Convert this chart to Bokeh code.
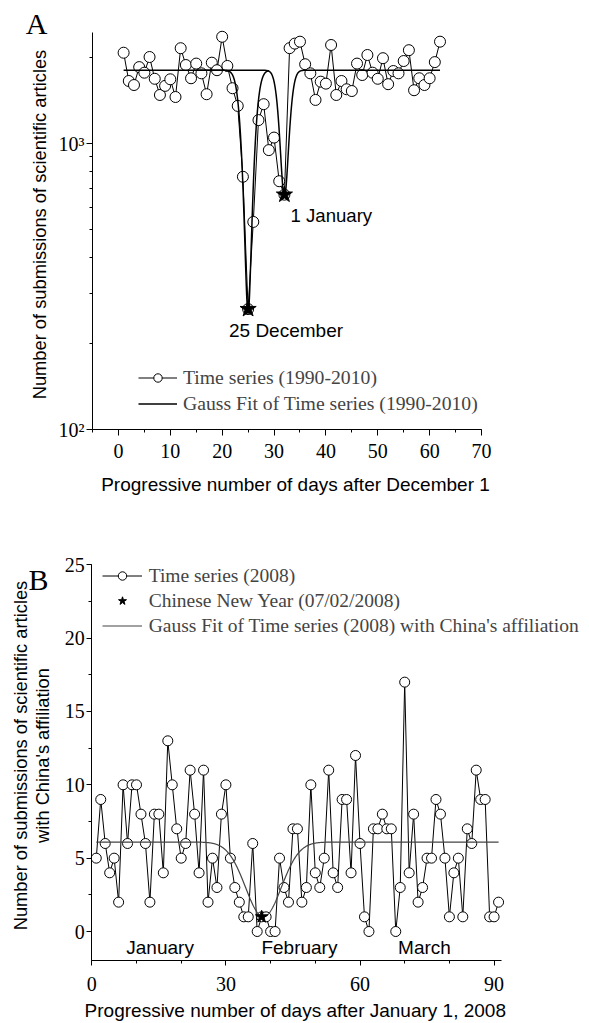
import math
import numpy as np
from bokeh.plotting import figure
from bokeh.layouts import column
from bokeh.models import (FixedTicker, SingleIntervalTicker, Label, Legend, LegendItem, Range1d)
from bokeh.embed import file_html
from bokeh.resources import INLINE

# ---------------- Panel A data ----------------
days_a = list(range(1, 63))
subs_a = [2085, 1660, 1607, 1857, 1775, 2014, 1690, 1483, 1596, 1683,
          1459, 2162, 1888, 1697, 1910, 1766, 1492, 1924, 1811, 2371,
          1874, 1566, 1358, 767, 264, 533, 1211, 1377, 951, 1052,
          740, 664, 2163, 2244, 2279, 1900, 1766, 1425, 1651, 1625,
          2219, 1483, 1660, 1553, 1531, 1910, 1742, 2047, 1775, 1690,
          1995, 1618, 1799, 1766, 1950, 2128, 1541, 1697, 1607, 1697,
          1933, 2279]
star_days_a = [25, 32]
star_vals_a = [264, 664]
# Gauss fit parameters: baseline, (depth, centre, width)
fit_a_base = 1810
fit_a1 = (1555, 25.0, 1.2)
fit_a2 = (1160, 32.0, 1.0)

# ---------------- Panel B data ----------------
days_b = list(range(1, 92))
subs_b = [5, 9, 6, 4, 5, 2, 10, 6, 10, 10,
          8, 6, 2, 8, 8, 4, 13, 10, 7, 5,
          6, 11, 8, 4, 11, 2, 5, 3, 8, 10,
          5, 3, 2, 1, 1, 6, 0, 1, 1, 0,
          0, 5, 3, 2, 7, 7, 2, 3, 10, 4,
          3, 5, 11, 4, 3, 9, 9, 4, 12, 6,
          1, 0, 7, 7, 8, 7, 7, 0, 3, 17,
          4, 8, 2, 3, 5, 5, 9, 8, 5, 1,
          4, 5, 1, 7, 6, 11, 9, 9, 1, 1, 2]
star_days_b = [38]
star_vals_b = [1]
fit_b = (6.1, 5.1, 38.4, 4.0)  # baseline, depth, centre, width
months = ["January", "February", "March"]

SERIF = "Liberation Serif"
SANS = "Liberation Sans"
W = 589
HA, HB = 510, 513


def lin_map(p0, v0, p1, v1):
    k = (v1 - v0) / (p1 - p0)
    return lambda p: v0 + (p - p0) * k


# ---- pixel layout of panel A (frame = whole canvas, axes placed inside) ----
fxA = lin_map(92, -5, 481, 70)
_lyA = lin_map(31.7, math.log10(2460), 429, 2.0)
fyA = lambda p: 10 ** _lyA(p)
# ---- pixel layout of panel B ----
fxB = lin_map(91.3, 0, 493.6, 90)
fyB = lin_map(421, 0, 54.3, 25)


def style_axes(p, tick_out, xstand, ystand):
    for ax in (p.xaxis[0], p.yaxis[0]):
        ax.axis_line_color = "black"
        ax.major_tick_line_color = "black"
        ax.minor_tick_line_color = "black"
        ax.major_tick_out = tick_out
        ax.major_tick_in = 0
        ax.minor_tick_out = 3
        ax.minor_tick_in = 0
        ax.major_label_text_font = SERIF
        ax.major_label_text_font_size = "20px"
        ax.major_label_text_color = "black"
    p.xaxis.major_label_standoff = xstand
    p.yaxis.major_label_standoff = ystand
    p.xgrid.visible = False
    p.ygrid.visible = False
    p.outline_line_color = None


def txt(p, x, y, text, size, font=SANS, align="center", angle=0.0):
    p.add_layout(Label(x=x, y=y, text=text, text_align=align, text_baseline="middle",
                       text_font=font, text_font_size=size, text_color="black", angle=angle))


# ---------------- Panel A ----------------
p1 = figure(width=W, height=HA, x_range=Range1d(fxA(0), fxA(W)),
            y_range=Range1d(fyA(HA), fyA(0)), y_axis_type="log",
            output_backend="svg", toolbar_location=None, min_border=0,
            min_border_left=0, min_border_right=0, min_border_top=0, min_border_bottom=0)
p1.xaxis.ticker = SingleIntervalTicker(interval=10, num_minor_ticks=2)
p1.yaxis.ticker = FixedTicker(ticks=[100, 1000],
                              minor_ticks=[200, 300, 400, 500, 600, 700, 800, 900, 2000])
p1.yaxis.major_label_overrides = {100: "10\u00b2", 1000: "10\u00b3"}
p1.xaxis.fixed_location = 100
p1.yaxis.fixed_location = -5
p1.xaxis.bounds = (-5, 70)
p1.yaxis.bounds = (100, 2460)
style_axes(p1, 6, 8, 2)

xa = np.linspace(1, 62, 1200)
fa2 = fit_a_base - fit_a2[0] * np.exp(-(xa - fit_a2[1]) ** 2 / (2 * fit_a2[2] ** 2))
xa1 = np.linspace(15, 29, 600)
fa1 = fit_a_base - fit_a1[0] * np.exp(-(xa1 - fit_a1[1]) ** 2 / (2 * fit_a1[2] ** 2))

line_a = p1.line(days_a, subs_a, line_color="black", line_width=1)
circ_a = p1.scatter(days_a, subs_a, marker="circle", size=11, fill_color="white",
                    line_color="black", line_width=1)
fit_r2 = p1.line(xa, fa2, line_color="black", line_width=1.5)
fit_r1 = p1.line(xa1, fa1, line_color="black", line_width=1.5)
p1.scatter(star_days_a, star_vals_a, marker="star", size=17, fill_color="black",
           line_color="black")

leg_a = Legend(items=[LegendItem(label="Time series (1990-2010)", renderers=[line_a, circ_a]),
                      LegendItem(label="Gauss Fit of Time series (1990-2010)", renderers=[fit_r2])],
               location=(138, HA - 414.5), border_line_color=None, background_fill_alpha=0,
               label_text_font=SERIF, label_text_font_size="19.7px", glyph_width=39,
               glyph_height=21, label_height=21, spacing=3, padding=0, margin=0,
               label_standoff=6)
p1.add_layout(leg_a)

txt(p1, fxA(295), fyA(483.5), "Progressive number of days after December 1", "19px")
txt(p1, fxA(39), fyA(224), "Number of submissions of scientific articles", "18.3px",
    angle=math.pi / 2)
txt(p1, fxA(285.5), fyA(330.3), "25 December", "19px")
txt(p1, fxA(290), fyA(215.2), "1 January", "18.6px", align="left")
txt(p1, fxA(36), fyA(23), "A", "30px", font=SERIF)

# ---------------- Panel B ----------------
p2 = figure(width=W, height=HB, x_range=Range1d(fxB(0), fxB(W)),
            y_range=Range1d(fyB(HB), fyB(0)),
            output_backend="svg", toolbar_location=None, min_border=0,
            min_border_left=0, min_border_right=0, min_border_top=0, min_border_bottom=0)
p2.xaxis.ticker = SingleIntervalTicker(interval=30, num_minor_ticks=3)
p2.yaxis.ticker = SingleIntervalTicker(interval=5, num_minor_ticks=2)
p2.xaxis.fixed_location = -2
p2.yaxis.fixed_location = 0
p2.xaxis.bounds = (0, 91.6)
p2.yaxis.bounds = (-2, 25)
style_axes(p2, 5, 11, 2)

xb = np.linspace(1, 91, 900)
fb = fit_b[0] - fit_b[1] * np.exp(-(xb - fit_b[2]) ** 2 / (2 * fit_b[3] ** 2))

line_b = p2.line(days_b, subs_b, line_color="black", line_width=1)
circ_b = p2.scatter(days_b, subs_b, marker="circle", size=10, fill_color="white",
                    line_color="black", line_width=1)
fit_rb = p2.line(xb, fb, line_color="#444444", line_width=1.2)
star_b = p2.scatter(star_days_b, star_vals_b, marker="star", size=13, fill_color="black",
                    line_color="black")

leg_b = Legend(items=[LegendItem(label="Time series (2008)", renderers=[line_b, circ_b]),
                      LegendItem(label="Chinese New Year (07/02/2008)", renderers=[star_b]),
                      LegendItem(label="Gauss Fit of Time series (2008) with China's affiliation",
                                 renderers=[fit_rb])],
               location=(101.7, HB - 126.8), border_line_color=None, background_fill_alpha=0,
               label_text_font=SERIF, label_text_font_size="19.5px", glyph_width=40,
               glyph_height=21, label_height=21, spacing=3, padding=0, margin=0,
               label_standoff=7)
p2.add_layout(leg_b)

txt(p2, fxB(294.8), fyB(499.5), "Progressive number of days after January 1, 2008", "19px")
txt(p2, fxB(19.7), fyB(245), "Number of submissions of scientific articles", "18.3px",
    angle=math.pi / 2)
txt(p2, fxB(41.5), fyB(245), "with China's affiliation", "18.3px", angle=math.pi / 2)
for name, px in zip(months, [159.6, 298.9, 424.0]):
    txt(p2, fxB(px), fyB(437.4), name, "19px")
txt(p2, fxB(38), fyB(69), "B", "30px", font=SERIF)

layout = column(p1, p2, spacing=0)
open("out.html", "w").write(file_html(layout, INLINE))
